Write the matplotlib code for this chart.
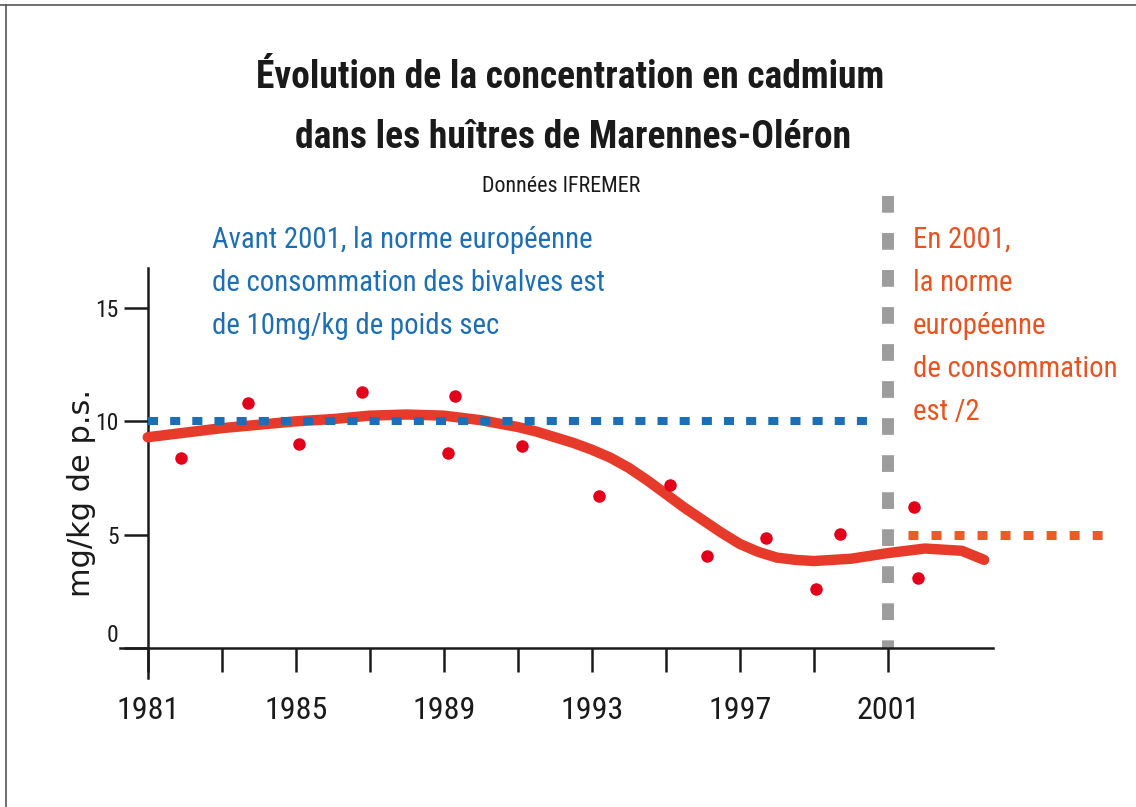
import matplotlib.pyplot as plt
from matplotlib.lines import Line2D
from matplotlib.transforms import ScaledTranslation
from matplotlib import font_manager
from matplotlib.font_manager import FontProperties

annees_mes = [1981.9, 1983.7, 1985.1, 1986.8, 1989.1, 1989.3, 1991.1, 1993.2,
              1995.1, 1996.1, 1997.7, 1999.05, 1999.7, 2001.7, 2001.8]
cadmium_mes = [8.4, 10.8, 9.0, 11.3, 8.6, 11.1, 8.9, 6.7,
               7.2, 4.05, 4.85, 2.6, 5.05, 6.25, 3.1]

# courbe de tendance
annees_tend = [1981, 1982, 1983, 1984, 1985, 1986, 1987, 1988, 1989, 1990, 1991,
               1991.5, 1992, 1992.5, 1993, 1993.5, 1994, 1994.5, 1995, 1995.5,
               1996, 1996.5, 1997, 1997.5, 1998, 1998.5, 1999, 2000, 2001, 2002,
               2003, 2003.6]
cadmium_tend = [9.3, 9.5, 9.7, 9.85, 10.0, 10.1, 10.25, 10.3, 10.25, 10.05, 9.75,
                9.55, 9.3, 9.05, 8.75, 8.4, 7.95, 7.4, 6.8, 6.2,
                5.65, 5.1, 4.6, 4.25, 4.0, 3.9, 3.85, 3.95, 4.2, 4.4,
                4.3, 3.9]

# normes
norme_avant = 10
norme_apres = 5
annee_norme = 2001

xticks = list(range(1981, 2002, 2))
xlabels = [str(a) if (a - 1981) % 4 == 0 else '' for a in xticks]
yticks = [0, 5, 10, 15]


# police etroite si dispo (sinon Roboto)
def police_etroite(gras=False):
    prefs = ['roboto', 'notosans', 'dejavu', 'liberation', 'opensans', 'lato']
    trouves = []
    for f in font_manager.fontManager.ttflist:
        nom = f.fname.lower().replace('-', '').replace('_', '')
        if 'condensed' not in nom and 'narrow' not in nom:
            continue
        if 'semicondensed' in nom or 'extracondensed' in nom or 'italic' in nom or 'oblique' in nom:
            continue
        est_gras = 'bold' in nom and 'semibold' not in nom and 'extrabold' not in nom
        if gras != est_gras:
            continue
        if not gras and any(w in nom for w in ['light', 'thin', 'medium', 'black', 'semibold', 'extrabold']):
            continue
        rang = next((i for i, p in enumerate(prefs) if p in nom), len(prefs))
        trouves.append((rang, f.fname))
    if trouves:
        trouves.sort()
        return trouves[0][1]
    return None


f_reg = police_etroite(False)
f_bold = police_etroite(True)


def fp(taille, gras=False):
    fn = f_bold if gras else f_reg
    if fn:
        return FontProperties(fname=fn, size=taille)
    return FontProperties(family='Roboto', weight='bold' if gras else 'normal', size=taille)


fig = plt.figure(figsize=(11.36, 8.07), dpi=100)
ax = fig.add_axes([120/1136, 1 - 678/807, 873/1136, 410/807])
ax.set_xlim(1980.25, 2003.84)
ax.set_ylim(-1.3, 16.75)

for s in ['top', 'right']:
    ax.spines[s].set_visible(False)
ax.spines['left'].set_position(('data', 1981))
ax.spines['bottom'].set_position(('data', 0))
for s in ['left', 'bottom']:
    ax.spines[s].set_linewidth(1.8)
    ax.spines[s].set_color('#1a1a1a')

ax.set_xticks(xticks)
ax.set_xticklabels(xlabels, fontproperties=fp(23))
ax.set_yticks(yticks)
ax.set_yticklabels([str(v) for v in yticks], fontproperties=fp(17))
ax.tick_params(axis='x', direction='out', length=17, width=1.8, pad=17, colors='#1a1a1a')
ax.tick_params(axis='y', direction='out', length=17, width=1.8, pad=4, colors='#1a1a1a')
lab0 = ax.get_yticklabels()[0]
lab0.set_transform(lab0.get_transform() + ScaledTranslation(0, 11/72, fig.dpi_scale_trans))

# lignes des normes
ax.plot([annee_norme, annee_norme], [19.9, 0], color='#9c9c9c', lw=8.6,
        dashes=(1.4, 1.7), solid_capstyle='butt', dash_capstyle='butt',
        clip_on=False, zorder=2)
ax.plot(annees_tend, cadmium_tend, color='#e63b2a', lw=7.5, solid_capstyle='round',
        solid_joinstyle='round', zorder=3)
ax.plot([1981, 2000.7], [norme_avant, norme_avant], color='#1d6fb5', lw=5.8,
        dashes=(1.25, 1.5), dash_capstyle='butt', zorder=4)
ax.plot([2001.55, 2006.8], [norme_apres, norme_apres], color='#ef5a24', lw=6.5,
        dashes=(1.1, 1.45), dash_capstyle='butt', clip_on=False, zorder=4)
ax.plot(annees_mes, cadmium_mes, 'o', color='#e3001b', ms=9, mec='none', zorder=5)

fig.text(81/1136, 1 - 493/807, 'mg/kg de p.s.', rotation=90, ha='center', va='center',
         fontsize=22, color='#1a1a1a', family='DejaVu Sans')

fig.text(570/1136, 1 - 78/807, 'Évolution de la concentration en cadmium',
         ha='center', va='center', fontproperties=fp(27, True), color='#1a1a1a')
fig.text(573/1136, 1 - 138/807, 'dans les huîtres de Marennes-Oléron',
         ha='center', va='center', fontproperties=fp(27, True), color='#1a1a1a')
fig.text(561/1136, 1 - 187/807, 'Données IFREMER', ha='center', va='center',
         fontproperties=fp(15.8), color='#1a1a1a')

fig.text(212/1136, 1 - 226/807,
         'Avant 2001, la norme européenne\nde consommation des bivalves est\nde 10mg/kg de poids sec',
         ha='left', va='top', fontproperties=fp(20.7), color='#1d6fb5', linespacing=1.68)
fig.text(913/1136, 1 - 226/807,
         'En 2001,\nla norme\neuropéenne\nde consommation\nest /2',
         ha='left', va='top', fontproperties=fp(20.7), color='#e9531d', linespacing=1.68)

# cadre
fig.add_artist(Line2D([0, 1], [1 - 5/807, 1 - 5/807], transform=fig.transFigure,
                      color='#555555', lw=1.2))
fig.add_artist(Line2D([6/1136, 6/1136], [0, 1 - 5/807], transform=fig.transFigure,
                      color='#555555', lw=1.2))

plt.savefig('out.png', dpi=100)
